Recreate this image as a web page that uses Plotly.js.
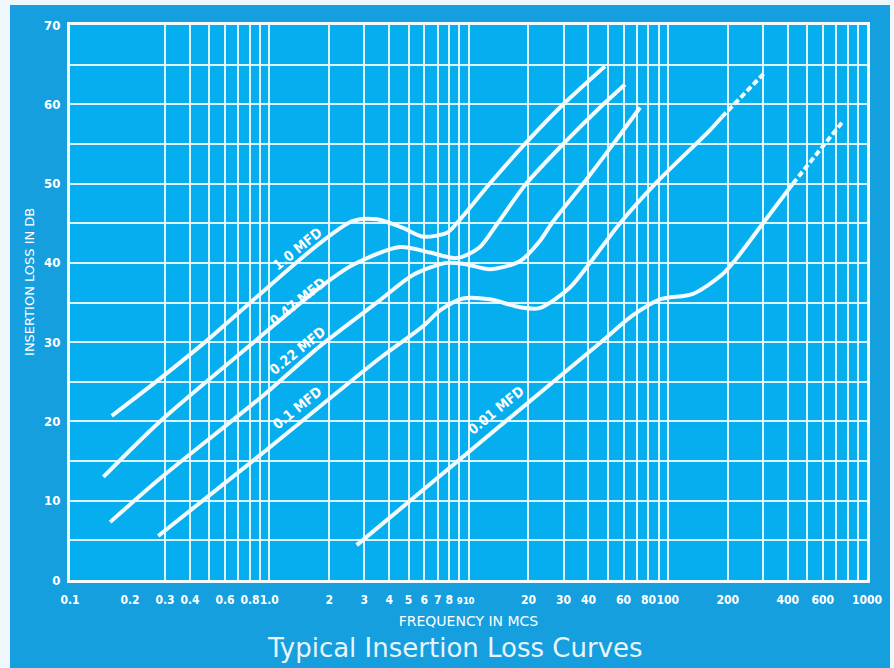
<!DOCTYPE html>
<html>
<head>
<meta charset="utf-8">
<script src="https://cdn.plot.ly/plotly-3.0.1.min.js"></script>
<style>
  html, body { margin: 0; padding: 0; background: #eef7fc; }
  #chart { position: absolute; left: 10px; top: 5px; width: 880px; height: 663px; }
</style>
</head>
<body>
<div id="chart"></div>
<script>
// ---- Data (frequency in Mc/s, insertion loss in dB) ----
const freq_1_0  = [0.162, 0.283, 0.476, 0.865, 1.797, 2.633, 3.47, 4.69, 5.91, 7.8, 8.73, 12.8, 19.2, 29.9, 48.4];
const loss_1_0  = [20.7, 25.4, 30.0, 35.7, 42.5, 45.3, 45.5, 44.4, 43.3, 43.8, 45.0, 50.0, 55.0, 60.0, 64.8];

const freq_0_47 = [0.147, 0.283, 0.865, 1.797, 2.633, 4.53, 6.41, 8.73, 11.3, 14.0, 19.5, 29.9, 47.5, 61.0];
const loss_0_47 = [13.0, 20.0, 30.3, 36.9, 39.75, 42.0, 41.3, 40.6, 41.9, 45.0, 50.0, 55.0, 60.0, 62.5];

const freq_0_22 = [0.159, 0.283, 0.930, 1.797, 3.6, 5.29, 7.79, 9.8, 12.8, 18.1, 22.7, 26.2, 37.7, 53.3, 72.6];
const loss_0_22 = [7.3, 12.8, 23.25, 29.5, 35.3, 38.5, 40.0, 39.8, 39.2, 40.2, 42.7, 45.0, 50.0, 55.0, 59.6];

const freq_0_1  = [0.277, 0.899, 3.596, 5.91, 7.2, 9.38, 12.8, 18.1, 22.7, 32.3, 40.7, 57.6, 86.7, 163, 187];
const loss_0_1  = [5.55, 15.75, 28.0, 32.0, 34.0, 35.5, 35.4, 34.4, 34.3, 36.9, 40.0, 45.0, 50.0, 56.75, 58.4];
const freq_0_1_ext = [187, 304];
const loss_0_1_ext = [58.4, 63.9];

const freq_0_01 = [2.747, 45.7, 66.9, 91.4, 134, 187, 212.6, 300.6, 425];
const loss_0_01 = [4.4, 29.9, 33.4, 35.4, 36.1, 38.5, 40.0, 45.0, 50.0];
const freq_0_01_ext = [425, 749];
const loss_0_01_ext = [50.0, 57.7];

const xTickVals  = [0.1, 0.2, 0.3, 0.4, 0.6, 0.8, 1, 2, 3, 4, 5, 6, 7, 8, 9, 10, 20, 30, 40, 60, 80, 100, 200, 400, 600, 1000];
const xTickText  = ["0.1", "0.2", "0.3", "0.4", "0.6", "0.8", "1.0", "2", "3", "4", "5", "6", "7", "8", "9", "10", "20", "30", "40", "60", "80", "100", "200", "400", "600", "1000"];
const xGridVals  = [0.3, 0.4, 0.5, 0.6, 0.7, 0.8, 0.9, 1, 2, 3, 4, 5, 6, 7, 8, 9, 10, 20, 30, 40, 50, 60, 70, 80, 90, 100, 200, 300, 400, 500, 600, 700, 800, 900];
// the two most crowded labels are set a little tighter so they do not collide
const tightLabels = ["9", "10"];

const curveLabels = ["1.0 MFD", "0.47 MFD", "0.22 MFD", "0.1 MFD", "0.01 MFD"];
const labelFreq   = [1.378, 1.378, 1.378, 1.378, 13.74];
const labelLoss   = [41.8, 35.1, 28.9, 21.7, 21.5];

// ---- Styling ----
const LINE = '#f3fbff';
const GRID = 'rgba(238,250,255,0.92)';
const condensed = '"DejaVu Sans Condensed", "Liberation Sans Narrow", "DejaVu Sans", sans-serif';

const xTickShown = xTickText.map(t => tightLabels.includes(t)
  ? '<span style="font-size:9.5px;letter-spacing:-0.5px">' + t + '</span>' : t);

function solid(x, y) {
  return { x: x, y: y, type: 'scatter', mode: 'lines', hoverinfo: 'skip',
           line: { color: LINE, width: 4, shape: 'spline', smoothing: 0.8 } };
}
function dashed(x, y) {
  return { x: x, y: y, type: 'scatter', mode: 'lines', hoverinfo: 'skip',
           line: { color: LINE, width: 4, dash: '6px,3px' } };
}

const data = [
  solid(freq_1_0, loss_1_0),
  solid(freq_0_47, loss_0_47),
  solid(freq_0_22, loss_0_22),
  solid(freq_0_1, loss_0_1),
  dashed(freq_0_1_ext, loss_0_1_ext),
  solid(freq_0_01, loss_0_01),
  dashed(freq_0_01_ext, loss_0_01_ext)
];

const annotations = curveLabels.map((t, i) => ({
  text: t, xref: 'x', yref: 'y',
  x: Math.log10(labelFreq[i]), y: labelLoss[i],
  showarrow: false, textangle: -39,
  font: { family: condensed, size: 14, color: '#ffffff', weight: 'bold' }
}));
annotations.push({
  text: 'INSERTION LOSS IN DB', xref: 'paper', yref: 'paper',
  x: -0.0502, y: 0.537, xanchor: 'center', yanchor: 'middle',
  showarrow: false, textangle: -90,
  font: { family: '"DejaVu Sans", sans-serif', size: 13, color: '#ffffff' }
});

const layout = {
  width: 880, height: 663,
  margin: { l: 60, r: 23, t: 20, b: 88 },
  paper_bgcolor: '#159fdf',
  plot_bgcolor: '#04aeef',
  showlegend: false,
  title: {
    text: 'Typical Insertion Loss Curves',
    xref: 'container', x: 0.506, xanchor: 'center',
    yref: 'container', y: 0.03, yanchor: 'middle',
    font: { family: '"DejaVu Sans", sans-serif', size: 26, color: '#e9f5fb' }
  },
  xaxis: {
    type: 'log', range: [-1, 3],
    tickmode: 'array', tickvals: xTickVals, ticktext: xTickShown, tickangle: 0,
    ticks: '', showgrid: false, zeroline: false,
    showline: true, mirror: true, linecolor: '#f4fbff', linewidth: 3,
    ticklabelstandoff: 7,
    tickfont: { family: condensed, size: 12, color: '#ffffff', weight: 'bold' },
    minor: { tickmode: 'array', tickvals: xGridVals, ticks: '', showgrid: true, gridcolor: GRID, gridwidth: 2 },
    title: { text: 'FREQUENCY IN MCS', standoff: 10,
             font: { family: '"DejaVu Sans", sans-serif', size: 14, color: '#ffffff' } }
  },
  yaxis: {
    range: [0, 70], tick0: 0, dtick: 10,
    ticks: '', showgrid: true, gridcolor: GRID, gridwidth: 2, zeroline: false,
    showline: true, mirror: true, linecolor: '#f4fbff', linewidth: 3,
    ticklabelstandoff: 4,
    tickfont: { family: condensed, size: 13, color: '#ffffff', weight: 'bold' },
    minor: { tick0: 0, dtick: 5, ticks: '', showgrid: true, gridcolor: GRID, gridwidth: 2 }
  },
  annotations: annotations
};

Plotly.newPlot('chart', data, layout, { staticPlot: true, displayModeBar: false });
</script>
</body>
</html>
